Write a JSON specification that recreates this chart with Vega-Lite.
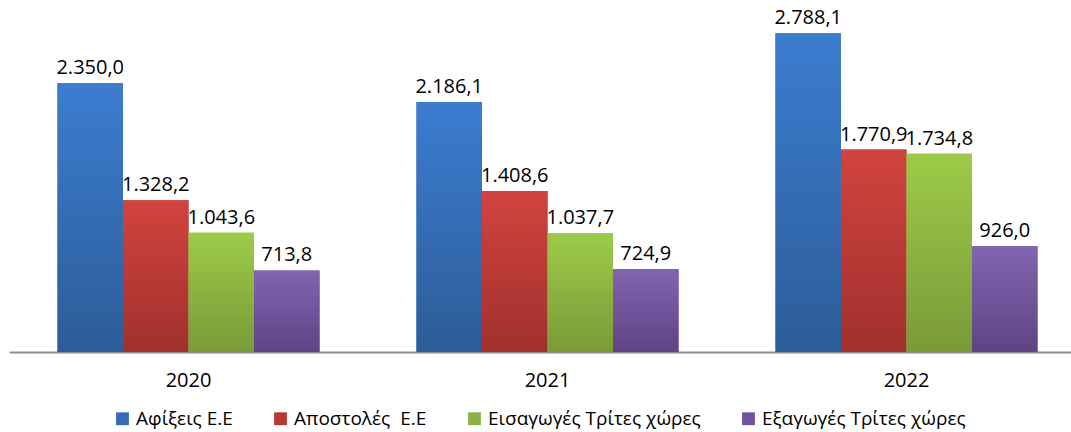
{
  "$schema": "https://vega.github.io/schema/vega-lite/v6.json",
  "autosize": {"type": "none"},
  "padding": {"left": 9, "top": 9, "right": 0, "bottom": 80},
  "width": 1062,
  "height": 343,
  "background": "white",
  "config": {
    "view": {"stroke": null},
    "font": "Open Sans",
    "locale": {"number": {"decimal": ",", "thousands": ".", "grouping": [3], "currency": ["", " €"]}}
  },
  "data": {
    "values": [
      {"year": "2020", "series": "Αφίξεις Ε.Ε", "value": 2350.0},
      {"year": "2020", "series": "Αποστολές  Ε.Ε", "value": 1328.2},
      {"year": "2020", "series": "Εισαγωγές Τρίτες χώρες", "value": 1043.6},
      {"year": "2020", "series": "Εξαγωγές Τρίτες χώρες", "value": 713.8},
      {"year": "2021", "series": "Αφίξεις Ε.Ε", "value": 2186.1},
      {"year": "2021", "series": "Αποστολές  Ε.Ε", "value": 1408.6},
      {"year": "2021", "series": "Εισαγωγές Τρίτες χώρες", "value": 1037.7},
      {"year": "2021", "series": "Εξαγωγές Τρίτες χώρες", "value": 724.9},
      {"year": "2022", "series": "Αφίξεις Ε.Ε", "value": 2788.1},
      {"year": "2022", "series": "Αποστολές  Ε.Ε", "value": 1770.9},
      {"year": "2022", "series": "Εισαγωγές Τρίτες χώρες", "value": 1734.8},
      {"year": "2022", "series": "Εξαγωγές Τρίτες χώρες", "value": 926.0}
    ]
  },
  "encoding": {
    "x": {
      "field": "year", "type": "nominal",
      "scale": {"range": [0, 1077], "paddingInner": 0, "paddingOuter": 0},
      "axis": {
        "title": null, "labelAngle": 0, "ticks": false, "grid": false,
        "domainColor": "#8e8e8e", "domainWidth": 2,
        "labelFontSize": 20, "labelColor": "#000000", "labelFont": "Open Sans",
        "labelPadding": 18
      }
    },
    "xOffset": {
      "field": "series", "type": "nominal",
      "sort": ["Αφίξεις Ε.Ε", "Αποστολές  Ε.Ε", "Εισαγωγές Τρίτες χώρες", "Εξαγωγές Τρίτες χώρες"],
      "scale": {"paddingInner": 0, "paddingOuter": 0.74}
    },
    "y": {
      "field": "value", "type": "quantitative",
      "scale": {"domain": [0, 3000], "nice": false},
      "axis": null
    }
  },
  "layer": [
    {
      "mark": {"type": "bar"},
      "encoding": {
        "color": {
          "field": "series", "type": "nominal",
          "sort": ["Αφίξεις Ε.Ε", "Αποστολές  Ε.Ε", "Εισαγωγές Τρίτες χώρες", "Εξαγωγές Τρίτες χώρες"],
          "scale": {"range": ["#376cb4", "#b83a36", "#8bb246", "#71539c"]},
          "legend": {
            "title": null, "orient": "none", "legendX": 104, "legendY": 400,
            "direction": "horizontal", "columns": 4,
            "symbolType": "square", "symbolSize": 165, "symbolStrokeWidth": 0,
            "labelFontSize": 19, "labelFont": "Open Sans", "labelColor": "#000000",
            "columnPadding": 38, "labelOffset": 4, "labelLimit": 400,
            "labelExpr": "replace(datum.label, '  ', '\u00a0 ')"
          }
        }
      }
    },
    {
      "transform": [{"filter": "datum.series === 'Αφίξεις Ε.Ε'"}],
      "mark": {"type": "bar", "fill": {"gradient": "linear", "x1": 0, "y1": 0, "x2": 0, "y2": 1,
        "stops": [{"offset": 0, "color": "#3c7dd0"}, {"offset": 1, "color": "#2c5c98"}]}}
    },
    {
      "transform": [{"filter": "datum.series === 'Αποστολές  Ε.Ε'"}],
      "mark": {"type": "bar", "fill": {"gradient": "linear", "x1": 0, "y1": 0, "x2": 0, "y2": 1,
        "stops": [{"offset": 0, "color": "#d2433e"}, {"offset": 1, "color": "#a0302e"}]}}
    },
    {
      "transform": [{"filter": "datum.series === 'Εισαγωγές Τρίτες χώρες'"}],
      "mark": {"type": "bar", "fill": {"gradient": "linear", "x1": 0, "y1": 0, "x2": 0, "y2": 1,
        "stops": [{"offset": 0, "color": "#9dcb48"}, {"offset": 1, "color": "#799a39"}]}}
    },
    {
      "transform": [{"filter": "datum.series === 'Εξαγωγές Τρίτες χώρες'"}],
      "mark": {"type": "bar", "fill": {"gradient": "linear", "x1": 0, "y1": 0, "x2": 0, "y2": 1,
        "stops": [{"offset": 0, "color": "#8264b0"}, {"offset": 1, "color": "#604384"}]}}
    },
    {
      "mark": {"type": "text", "baseline": "bottom", "align": "center", "dy": -5, "fontSize": 20, "font": "Open Sans", "color": "#000000"},
      "encoding": {
        "text": {"field": "value", "type": "quantitative", "format": ",.1f"}
      }
    }
  ]
}
